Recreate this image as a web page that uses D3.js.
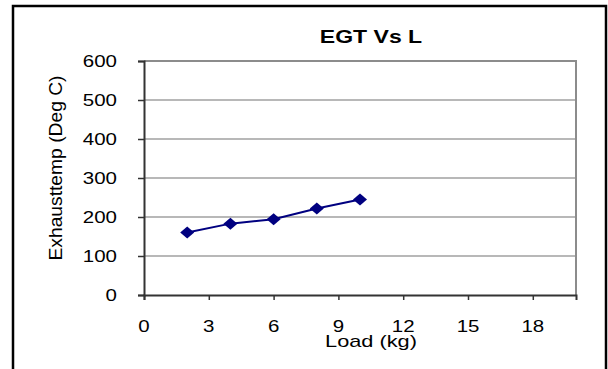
<!DOCTYPE html>
<html>
<head>
<meta charset="utf-8">
<script src="https://cdn.jsdelivr.net/npm/d3@7"></script>
<style>
  body { margin: 0; background: #fff; }
  text { font-family: "Liberation Sans", Arial, sans-serif; fill: #000; }
</style>
</head>
<body>
<script>
// data
var loads = [2, 4, 6, 8, 10];
var egt = [160, 183, 194, 222, 245];
var xTicks = [0, 3, 6, 9, 12, 15, 18];
var yTicks = [0, 100, 200, 300, 400, 500, 600];

var w = 608, h = 369;
var plotL = 144, plotR = 576, plotT = 61, plotB = 295;
var stretch = 1.28;   // the picture's text is stretched sideways

var svg = d3.select("body").append("svg").attr("width", w).attr("height", h);

// outer frame
svg.append("rect").attr("x", 13).attr("y", 6).attr("width", 593).attr("height", 400)
  .attr("fill", "none").attr("stroke", "#000").attr("stroke-width", 2.5);

var x = d3.scaleLinear().domain([0, 20]).range([plotL, plotR]);
var y = d3.scaleLinear().domain([0, 600]).range([plotB, plotT]);

// gridlines
svg.append("g").selectAll("line").data(yTicks.slice(1, -1)).enter().append("line")
  .attr("x1", plotL).attr("x2", plotR)
  .attr("y1", function(d) { return y(d); }).attr("y2", function(d) { return y(d); })
  .attr("stroke", "#a0a0a0").attr("stroke-width", 1.5);

// plot frame top / right
svg.append("path")
  .attr("d", "M" + plotL + "," + plotT + "H" + plotR + "V" + plotB)
  .attr("fill", "none").attr("stroke", "#8c8c8c").attr("stroke-width", 2);

// axes
var yAxis = svg.append("g").attr("transform", "translate(" + plotL + ",0)")
  .call(d3.axisLeft(y).tickValues(yTicks).tickSize(6).tickFormat(""));
var xAxis = svg.append("g").attr("transform", "translate(0," + plotB + ")")
  .call(d3.axisBottom(x).tickValues(xTicks).tickSize(5).tickFormat(""));
[yAxis, xAxis].forEach(function(a) {
  a.select(".domain").attr("stroke", "#333").attr("stroke-width", 2);
  a.selectAll(".tick line").attr("stroke", "#333").attr("stroke-width", 1.5);
});

function label(g, tx, ty, str, anchor, size, weight) {
  return g.append("text")
    .attr("transform", "translate(" + tx + "," + ty + ") scale(" + stretch + ",1)")
    .attr("text-anchor", anchor)
    .style("font-size", size + "px")
    .style("font-weight", weight || "normal")
    .text(str);
}

// tick labels
yTicks.forEach(function(d) { label(svg, 117, y(d) + 6, d, "end", 16); });
xTicks.forEach(function(d) { label(svg, x(d), 332, d, "middle", 16); });

// titles
label(svg, 371, 43, "EGT Vs L", "middle", 18, "bold");
label(svg, 371, 347, "Load (kg)", "middle", 17);
svg.append("text")
  .attr("transform", "translate(62,168) rotate(-90)")
  .attr("text-anchor", "middle")
  .attr("textLength", 185).attr("lengthAdjust", "spacingAndGlyphs")
  .style("font-size", "18px")
  .text("Exhausttemp (Deg C)");

// series
var pts = loads.map(function(d, i) { return [d, egt[i]]; });
svg.append("path").datum(pts)
  .attr("d", d3.line().x(function(d) { return x(d[0]); }).y(function(d) { return y(d[1]); }))
  .attr("fill", "none").attr("stroke", "#000080").attr("stroke-width", 2);

svg.selectAll("path.mark").data(pts).enter().append("path")
  .attr("class", "mark")
  .attr("d", "M0,-6L7,0L0,6L-7,0Z")
  .attr("transform", function(d) { return "translate(" + x(d[0]) + "," + y(d[1]) + ")"; })
  .attr("fill", "#000080");
</script>
</body>
</html>
